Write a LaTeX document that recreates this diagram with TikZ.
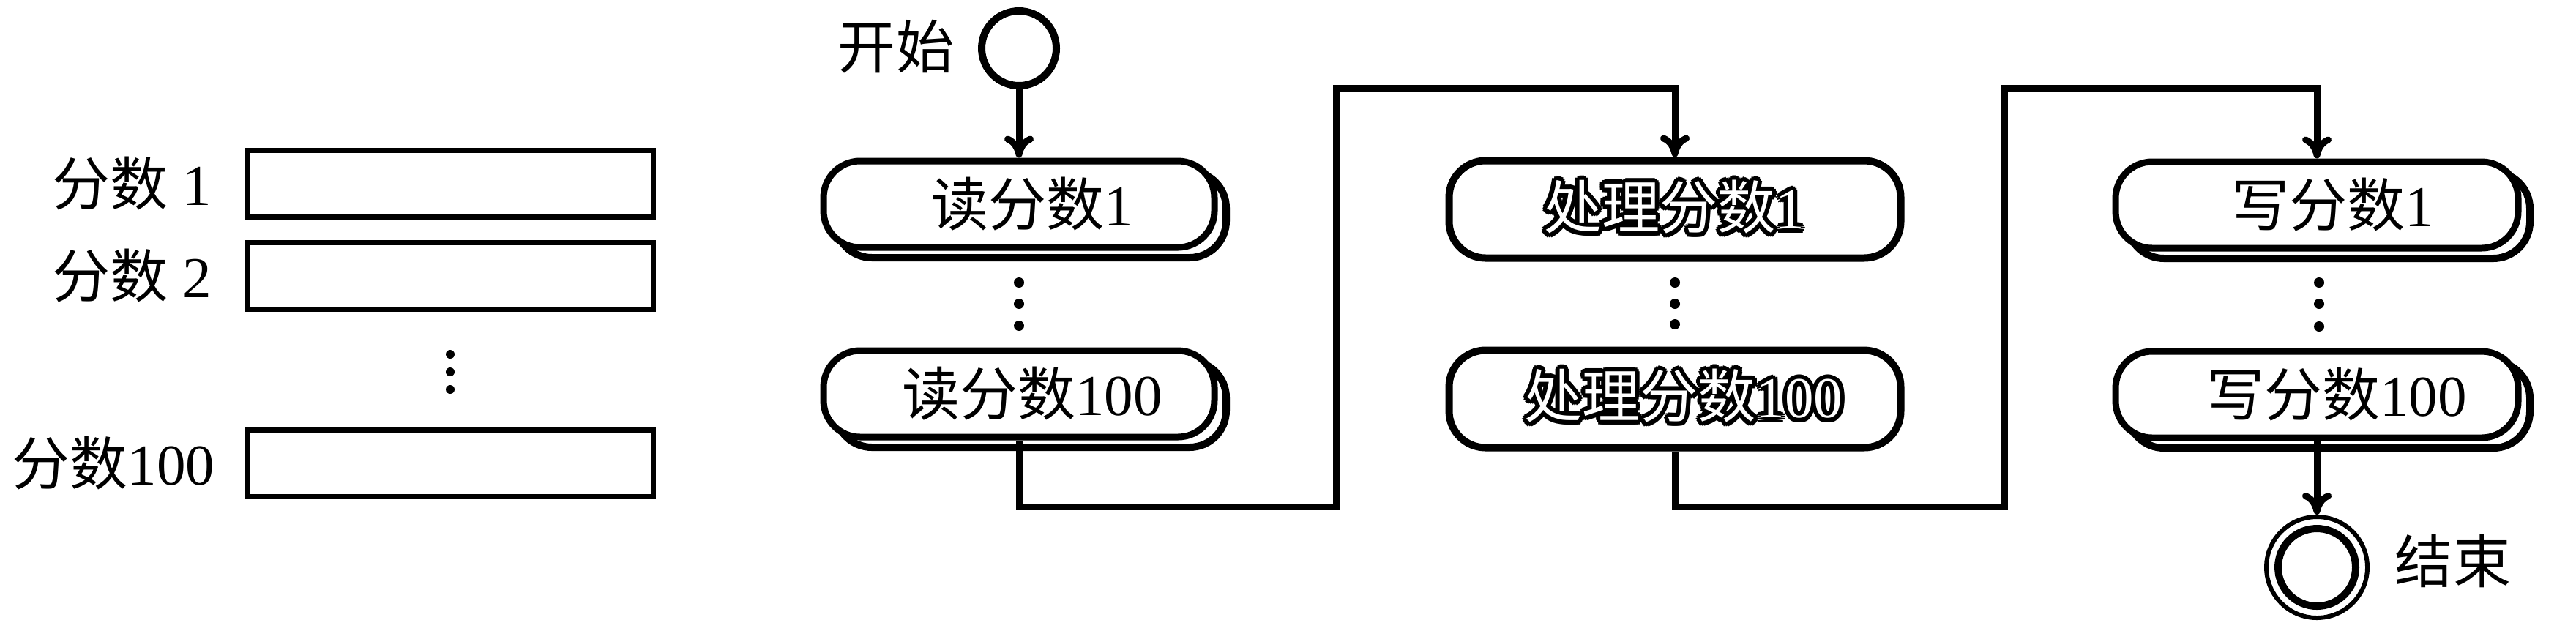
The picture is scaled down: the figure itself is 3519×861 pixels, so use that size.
\documentclass[tikz,border=0pt]{standalone}
\usepackage{fontspec}
\setmainfont{Liberation Serif}
\newfontfamily\cjk{Noto Sans CJK SC}
\usetikzlibrary{arrows.meta,shadows}
\newsavebox\haloblk
\newsavebox\halowht
\newcommand\halo[1]{%
  \sbox\haloblk{\color{black}#1}%
  \sbox\halowht{\color{white}#1}%
  \foreach \dx/\dy in {0.6mm/0mm, 0.52mm/0.3mm, 0.3mm/0.52mm, 0mm/0.6mm, -0.3mm/0.52mm, -0.52mm/0.3mm,
    -0.6mm/0mm, -0.52mm/-0.3mm, -0.3mm/-0.52mm, 0mm/-0.6mm, 0.3mm/-0.52mm, 0.52mm/-0.3mm,
    0.3mm/0mm, 0mm/0.3mm, -0.3mm/0mm, 0mm/-0.3mm}{\rlap{\kern\dx\raisebox{\dy}{\usebox\haloblk}}}%
  \usebox\halowht}
\begin{document}
\begin{tikzpicture}[x=0.1mm,y=-0.1mm,
  every node/.style={font=\fontsize{22.5pt}{27pt}\selectfont},
  memcell/.style={draw, line width=0.7mm, minimum width=55.4mm, minimum height=9.1mm, inner sep=0pt},
  flowbox/.style={draw, fill=white, line width=0.9mm, rounded corners=5mm, minimum height=11.8mm, inner sep=0pt},
  shadowed/.style={general shadow={shadow xshift=1.6mm, shadow yshift=-1.4mm, draw=black, fill=white, line width=1mm}},
  dotmark/.style={circle, fill=black, inner sep=0pt, minimum size=1.4mm},
  conn/.style={line width=0.9mm},
  arr/.style={-{Computer Modern Rightarrow[length=3mm,width=4mm]}},
  lbl/.style={inner sep=0pt}
]
\useasboundingbox (0,0) rectangle (3519,861);

% memory cells on the left
\node[memcell] (m1) at (615.5,251) {};
\node[memcell] (m2) at (615.5,376.5) {};
\node[memcell] (m3) at (615.5,633) {};
\node[lbl, anchor=east] (l1) at (290,251) {{\cjk 分数} 1};
\node[lbl, anchor=east] (l2) at (290,376.5) {{\cjk 分数} 2};
\node[lbl, anchor=east] (l3) at (294,633) {{\cjk 分数}100};
\node[dotmark, minimum size=1.2mm] (md1) at (615,484) {};
\node[dotmark, minimum size=1.2mm] (md2) at (615,508) {};
\node[dotmark, minimum size=1.2mm] (md3) at (615,532) {};

% start
\node[circle, draw, line width=1mm, minimum size=10.2mm, inner sep=0pt] (start) at (1392,66) {};
\node[lbl] (startlbl) at (1224,64) {\cjk 开始};

% read column
\node[flowbox, shadowed, minimum width=53.4mm] (r1) at (1392,279) {};
\node[flowbox, shadowed, minimum width=53.4mm] (r100) at (1392,538) {};
\node[lbl] (r1t) at (1410,279) {{\cjk 读分数}1};
\node[lbl] (r100t) at (1410,538) {{\cjk 读分数}100};
\node[dotmark] (rd1) at (1392,386) {};
\node[dotmark] (rd2) at (1392,415) {};
\node[dotmark] (rd3) at (1392,445) {};

% process column
\node[flowbox, line width=1mm, minimum width=61.7mm, minimum height=13.3mm] (p1) at (2288,286) {};
\node[flowbox, line width=1mm, minimum width=61.7mm, minimum height=13.3mm] (p100) at (2288,545) {};
\node[lbl] (p1t) at (2287,283) {\halo{{\cjk 处理分数}1}};
\node[lbl] (p100t) at (2300,541) {\halo{{\cjk 处理分数}100}};
\node[dotmark] (pd1) at (2288,386) {};
\node[dotmark] (pd2) at (2288,415) {};
\node[dotmark] (pd3) at (2288,443) {};

% write column
\node[flowbox, shadowed, minimum width=55mm] (w1) at (3165,280) {};
\node[flowbox, shadowed, minimum width=55mm] (w100) at (3165,539) {};
\node[lbl] (w1t) at (3187,280) {{\cjk 写分数}1};
\node[lbl] (w100t) at (3192,539) {{\cjk 写分数}100};
\node[dotmark] (wd1) at (3168,386) {};
\node[dotmark] (wd2) at (3168,415) {};
\node[dotmark] (wd3) at (3168,446) {};

% end
\node[circle, draw, line width=0.6mm, minimum size=13.8mm, inner sep=0pt] (endo) at (3165,775) {};
\node[circle, draw, line width=1mm, minimum size=10.6mm, inner sep=0pt] (endi) at (3165,775) {};
\node[lbl] (endlbl) at (3351,766) {\cjk 结束};

% connectors
\coordinate (k1) at (1825,692);
\coordinate (k2) at (1825,120);
\coordinate (k3) at (2738,692);
\coordinate (k4) at (2738,120);
\draw[conn, arr] (start) -- (r1.north);
\draw[conn, arr] (r100.south) |- (k1) -- (k2) -| (p1.north);
\draw[conn, arr] (p100.south) |- (k3) -- (k4) -| (w1.north);
\draw[conn, arr] (w100.south) -- (endo.north);
\end{tikzpicture}
\end{document}
